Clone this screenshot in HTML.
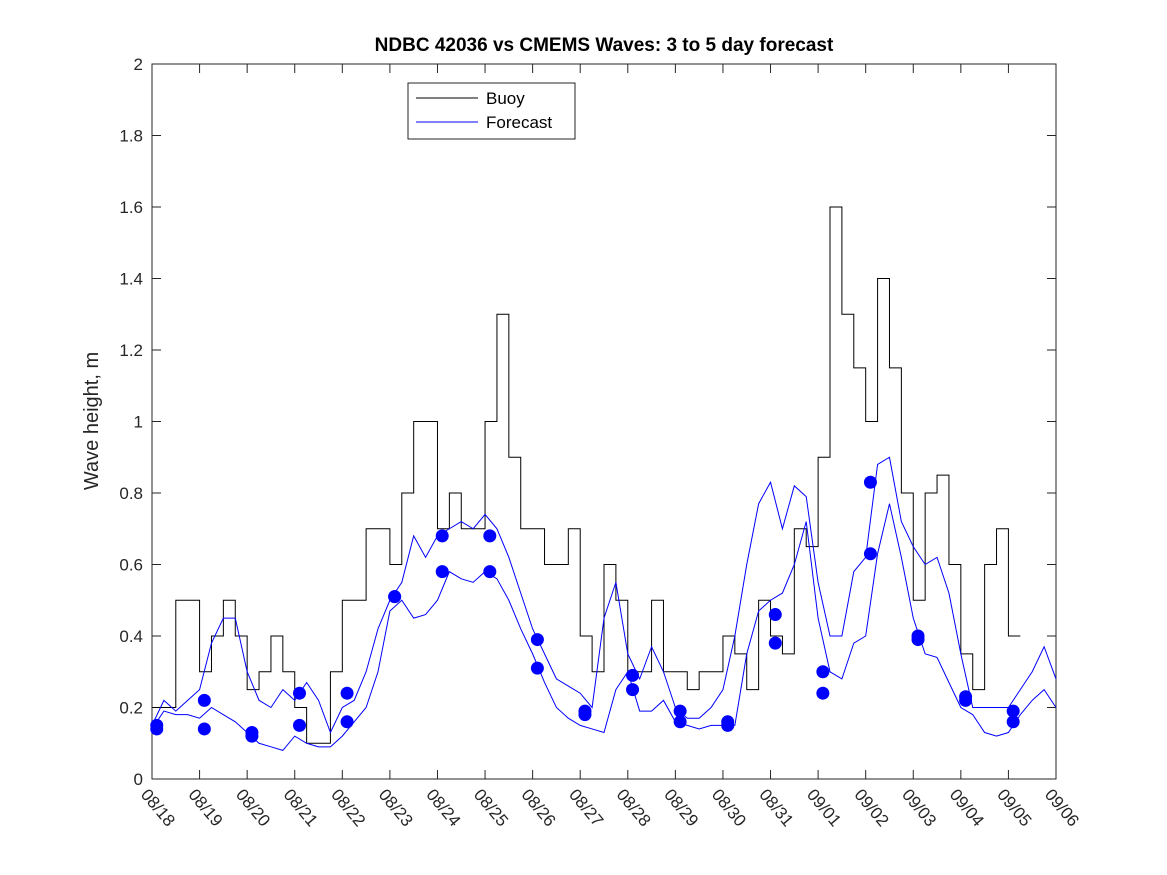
<!DOCTYPE html>
<html><head><meta charset="utf-8"><style>
body{margin:0;background:#fff;}
svg{display:block;font-family:"Liberation Sans",sans-serif;}
</style></head><body>
<svg id="chart" width="1167" height="875" xmlns="http://www.w3.org/2000/svg">
<rect width="1167" height="875" fill="#fff"/>
<text x="604" y="51" text-anchor="middle" font-size="19" font-weight="bold">NDBC 42036 vs CMEMS Waves: 3 to 5 day forecast</text>
<text transform="translate(98,421) rotate(-90)" text-anchor="middle" font-size="20" fill="#262626">Wave height, m</text>
<g id="axes"></g>
<g id="series"></g>
<g>
<rect x="408" y="83" width="167" height="56" fill="#fff" stroke="#262626" stroke-width="1"/>
<line x1="416" y1="98" x2="478" y2="98" stroke="#000"/>
<text x="486" y="104" font-size="17" fill="#000">Buoy</text>
<line x1="416" y1="122" x2="478" y2="122" stroke="#0000ff"/>
<text x="486" y="128" font-size="17" fill="#000">Forecast</text>
</g>
</svg>
<script>
const dayLabels=["08/18","08/19","08/20","08/21","08/22","08/23","08/24","08/25","08/26","08/27","08/28","08/29","08/30","08/31","09/01","09/02","09/03","09/04","09/05","09/06"];
const yTicks=[0,0.2,0.4,0.6,0.8,1,1.2,1.4,1.6,1.8,2];
const yTickLabels=["0","0.2","0.4","0.6","0.8","1","1.2","1.4","1.6","1.8","2"];
const STEP=0.25; // 6-hourly samples
const buoy=[0.2,0.2,0.5,0.5,0.3,0.4,0.5,0.4,0.25,0.3,0.4,0.3,0.2,0.1,0.1,0.3,0.5,0.5,0.7,0.7,0.6,0.8,1.0,1.0,0.7,0.8,0.7,0.7,1.0,1.3,0.9,0.7,0.7,0.6,0.6,0.7,0.4,0.3,0.6,0.5,0.3,0.3,0.5,0.3,0.3,0.25,0.3,0.3,0.4,0.35,0.25,0.5,0.4,0.35,0.7,0.65,0.9,1.6,1.3,1.15,1.0,1.4,1.15,0.8,0.5,0.8,0.85,0.6,0.35,0.25,0.6,0.7,0.4];
const forecastA=[0.15,0.22,0.19,0.22,0.25,0.38,0.45,0.45,0.3,0.22,0.2,0.25,0.22,0.27,0.22,0.13,0.2,0.22,0.3,0.42,0.5,0.55,0.68,0.62,0.68,0.7,0.72,0.7,0.74,0.7,0.62,0.52,0.42,0.35,0.28,0.26,0.24,0.2,0.45,0.55,0.35,0.28,0.37,0.3,0.2,0.17,0.17,0.2,0.25,0.4,0.6,0.77,0.83,0.7,0.82,0.79,0.55,0.4,0.4,0.58,0.62,0.88,0.9,0.72,0.65,0.6,0.62,0.52,0.35,0.2,0.2,0.2,0.2,0.25,0.3,0.37,0.28];
const forecastB=[0.14,0.19,0.18,0.18,0.17,0.2,0.18,0.16,0.13,0.1,0.09,0.08,0.12,0.1,0.09,0.09,0.12,0.16,0.2,0.3,0.47,0.5,0.45,0.46,0.5,0.58,0.56,0.55,0.58,0.56,0.5,0.42,0.35,0.27,0.2,0.17,0.15,0.14,0.13,0.25,0.3,0.19,0.19,0.22,0.16,0.15,0.14,0.15,0.15,0.15,0.35,0.47,0.5,0.52,0.6,0.72,0.45,0.3,0.28,0.38,0.4,0.63,0.77,0.62,0.45,0.35,0.34,0.27,0.2,0.18,0.13,0.12,0.13,0.18,0.22,0.25,0.2];
const dotTimes=[0.1,1.1,2.1,3.1,4.1,5.1,6.1,7.1,8.1,9.1,10.1,11.1,12.1,13.1,14.1,15.1,16.1,17.1,18.1];
const dotHigh=[0.15,0.22,0.13,0.24,0.24,0.51,0.68,0.68,0.39,0.19,0.29,0.19,0.16,0.46,0.30,0.83,0.40,0.23,0.19];
const dotLow=[0.14,0.14,0.12,0.15,0.16,0.51,0.58,0.58,0.31,0.18,0.25,0.16,0.15,0.38,0.24,0.63,0.39,0.22,0.16];

const X0=152,X1=1056,Y0=779,Y1=64,NDAYS=19;
const xs=d=>X0+(X1-X0)*d/NDAYS;
const ys=v=>Y0-(Y0-Y1)*v/2;
const NS="http://www.w3.org/2000/svg";
function mk(tag,attrs,parent){const e=document.createElementNS(NS,tag);for(const k in attrs)e.setAttribute(k,attrs[k]);parent.appendChild(e);return e;}
const axes=document.getElementById('axes'),series=document.getElementById('series');
const frame=mk('rect',{x:X0,y:Y1,width:X1-X0,height:Y0-Y1,fill:'none',stroke:'#262626','stroke-width':1},axes);


yTicks.forEach((v,i)=>{
  const y=ys(v);
  mk('line',{x1:X0,y1:y,x2:X0+9,y2:y,stroke:'#262626'},axes);
  mk('line',{x1:X1,y1:y,x2:X1-9,y2:y,stroke:'#262626'},axes);
  const t=mk('text',{x:X0-9,y:y+6,'text-anchor':'end','font-size':17,fill:'#262626'},axes);
  t.textContent=yTickLabels[i];
  
  
});
dayLabels.forEach((lab,i)=>{
  const x=xs(i);
  mk('line',{x1:x,y1:Y0,x2:x,y2:Y0-9,stroke:'#262626'},axes);
  mk('line',{x1:x,y1:Y1,x2:x,y2:Y1+9,stroke:'#262626'},axes);
  const t=mk('text',{transform:`translate(${x-12},${Y0+16}) rotate(50)`,'font-size':17,fill:'#262626'},axes);
  t.textContent=lab;
  
  
});
let d='';
buoy.forEach((v,i)=>{const x=xs(i*STEP),x2=xs((i+1)*STEP),y=ys(v);d+=(i?'L':'M')+x+','+y+'L'+x2+','+y;});
const bl=mk('path',{d:d,fill:'none',stroke:'#000','stroke-width':1},series);


function line(arr,name){
  const p=arr.map((v,i)=>(i?'L':'M')+Math.min(xs(i*STEP),X1)+','+ys(v)).join('');
  const e=mk('path',{d:p,fill:'none',stroke:'#0000ff','stroke-width':1},series);
  
  
}
line(forecastA,'forecast-line-a');
line(forecastB,'forecast-line-b');
dotTimes.forEach((t,i)=>{
  [dotHigh[i],dotLow[i]].forEach(v=>{
    const c=mk('circle',{cx:xs(t),cy:ys(v),r:6.5,fill:'#0000ff'},series);
    
    
  });
});
</script>
</body></html>
